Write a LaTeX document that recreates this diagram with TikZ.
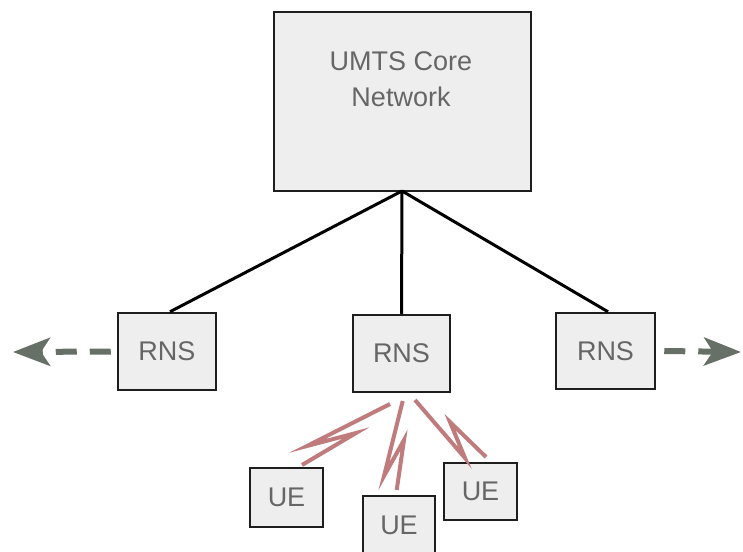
\documentclass[tikz,border=0pt]{standalone}
\usepackage{fontspec}
\setmainfont{Liberation Sans}
\usetikzlibrary{arrows.meta}
\definecolor{boxfill}{HTML}{EEEEEE}
\definecolor{boxline}{HTML}{1E1E1E}
\definecolor{txtgray}{HTML}{666666}
\definecolor{arrowgray}{HTML}{667066}
\definecolor{boltred}{HTML}{C07C7C}
\begin{document}
\begin{tikzpicture}[x=1pt,y=-1pt,
  box/.style={draw=boxline,fill=boxfill,line width=2.5pt,inner sep=0pt,
    text=txtgray,font=\fontsize{27}{36}\selectfont},
  link/.style={draw=black,line width=3pt},
  side/.style={draw=arrowgray,line width=6pt,dash pattern=on 21pt off 13pt,
    -{Stealth[length=37pt,width=28pt,inset=9pt]}},
  bolt/.style={draw=boltred,line width=4pt,line join=miter,miter limit=20}]
\useasboundingbox (0,0) rectangle (743,551);
\node[box,minimum width=257pt,minimum height=179pt] (core) at (402.5,101.5) {};
\node[text=txtgray,font=\fontsize{27}{36}\selectfont,align=center,inner sep=0pt] (coretext) at (401,79.5) {UMTS Core\\Network};
\node[box,minimum width=98pt,minimum height=77pt] (r1) at (167,351.5) {RNS};
\node[box,minimum width=97pt,minimum height=77pt] (r2) at (401.5,353.5) {RNS};
\node[box,minimum width=99pt,minimum height=76pt] (r3) at (605.5,351) {RNS};
\node[box,minimum width=73pt,minimum height=59pt] (u1) at (286.5,497.5) {UE};
\node[box,minimum width=72pt,minimum height=59pt] (u2) at (399,525.5) {UE};
\node[box,minimum width=73pt,minimum height=57pt] (u3) at (480.5,491.5) {UE};
% links core -> RNS
\coordinate (cb) at (402,191);
\draw[link] (cb) -- ([xshift=3pt]r1.north);
\draw[link] (cb) -- (r2.north);
\draw[link] (cb) -- ([xshift=2.5pt]r3.north);
% side dashed arrows
\coordinate (lend) at (13,352);
\coordinate (rend) at (741,352);
\draw[side] ([xshift=-6pt]r1.west) -- (lend);
\draw[side] ([xshift=8pt]r3.east) -- (rend);
% radio links
\draw[bolt] (390,404) -- (307,446) -- (356,433) -- (302,465);
\draw[bolt] (402.7,401) -- (384,476) -- (404,440) -- (396.7,490);
\draw[bolt] (415,400) -- (465,458) -- (450,422) -- (486,457);
\end{tikzpicture}
\end{document}
